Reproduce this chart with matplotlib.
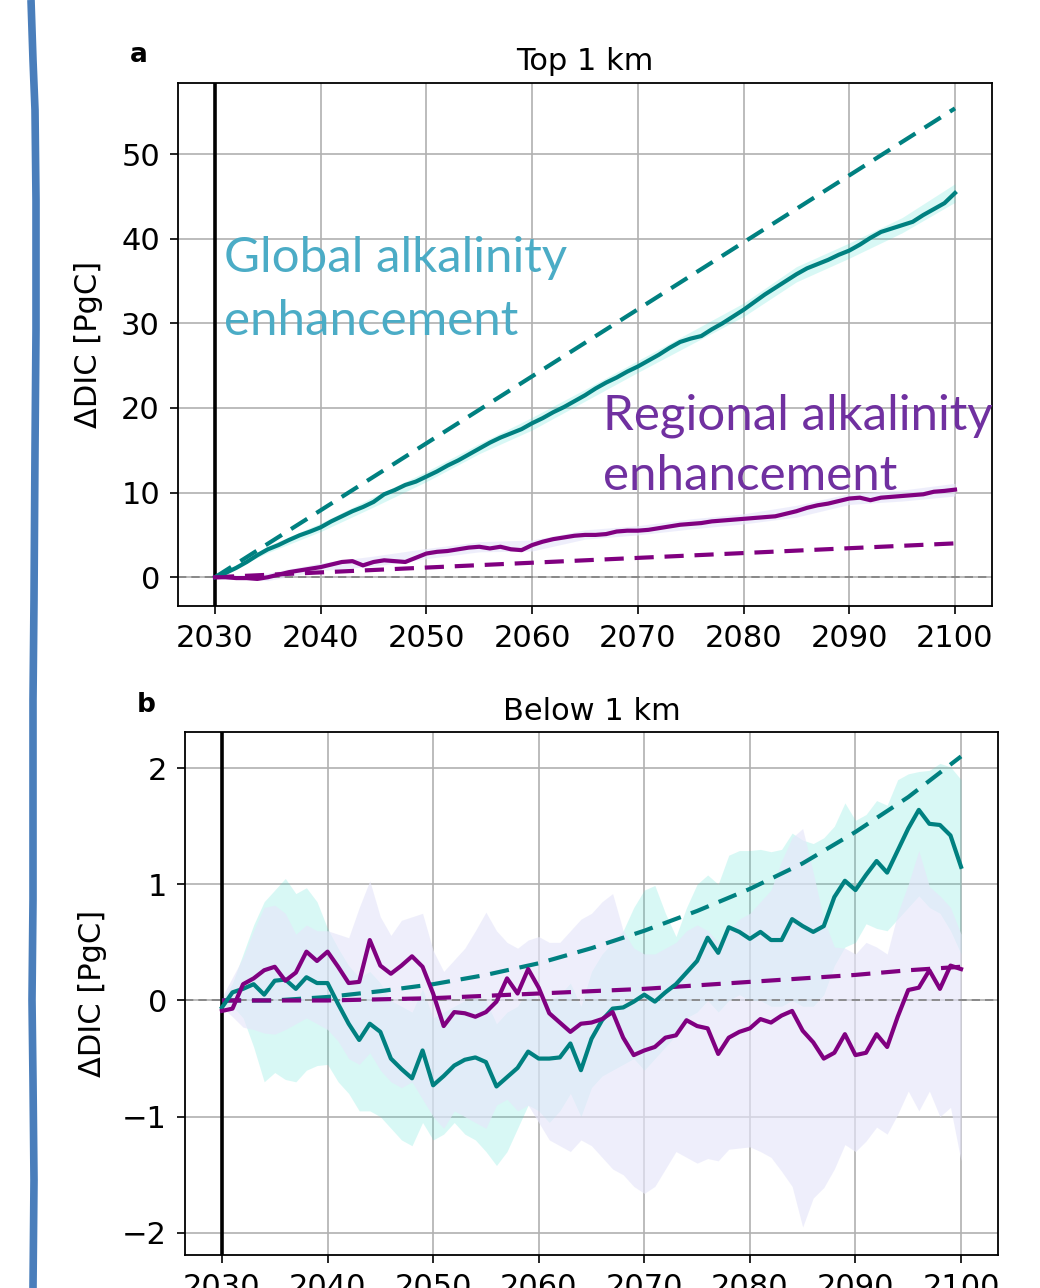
"""
ΔDIC for global vs regional alkalinity enhancement.
Top panel: top 1 km, bottom panel: below 1 km.
Saves out.png
"""
import numpy as np
import matplotlib.pyplot as plt
from matplotlib.lines import Line2D

# ---------------------------- data ---------------------------- #
years = np.arange(2030, 2101)

# top 1 km (annual ensemble means)
top_global = [0.0, 0.5, 1.1, 1.8, 2.6, 3.3, 3.8, 4.4, 4.95, 5.4,
              5.9, 6.6, 7.2, 7.8, 8.3, 8.9, 9.8, 10.3, 10.9, 11.3,
              11.9, 12.5, 13.2, 13.8, 14.5, 15.2, 15.9, 16.5, 17.0, 17.5,
              18.2, 18.8, 19.5, 20.1, 20.8, 21.5, 22.3, 23.0, 23.6, 24.3,
              24.9, 25.6, 26.3, 27.1, 27.8, 28.2, 28.5, 29.3, 30.0, 30.8,
              31.6, 32.5, 33.4, 34.2, 35.0, 35.8, 36.5, 37.0, 37.5, 38.1,
              38.6, 39.3, 40.1, 40.8, 41.2, 41.6, 42.0, 42.8, 43.5, 44.2,
              45.4]
top_regional = [0.0, 0.0, -0.1, -0.1, -0.2, 0.0, 0.3, 0.6, 0.8, 1.0,
                1.2, 1.5, 1.8, 1.9, 1.4, 1.8, 2.0, 1.9, 1.8, 2.3,
                2.8, 3.0, 3.1, 3.3, 3.5, 3.6, 3.4, 3.6, 3.3, 3.2,
                3.8, 4.2, 4.5, 4.7, 4.9, 5.0, 5.0, 5.1, 5.4, 5.5,
                5.5, 5.6, 5.8, 6.0, 6.2, 6.3, 6.4, 6.6, 6.7, 6.8,
                6.9, 7.0, 7.1, 7.2, 7.5, 7.8, 8.2, 8.5, 8.7, 9.0,
                9.3, 9.4, 9.1, 9.4, 9.5, 9.6, 9.7, 9.8, 10.1, 10.2,
                10.35]

# spread bands for the top panel (every 5 years)
band_years = np.arange(2030, 2101, 5)
top_global_lo = [0.0, 2.9, 5.4, 8.3, 11.3, 14.6, 17.4, 20.8, 24.2, 27.5, 30.8, 34.9, 37.7, 40.7, 44.3]
top_global_hi = [0.0, 3.7, 6.4, 9.5, 12.5, 15.8, 18.9, 22.2, 25.6, 29.0, 32.4, 36.7, 39.5, 42.5, 46.5]
top_regional_lo = [-0.2, -0.4, 0.8, 1.3, 2.2, 3.0, 3.1, 4.5, 5.0, 5.7, 6.3, 7.1, 8.6, 9.0, 9.6]
top_regional_hi = [0.1, 0.5, 1.7, 2.5, 3.4, 4.2, 4.4, 5.6, 6.1, 6.9, 7.5, 8.5, 9.9, 10.3, 11.1]

# idealised (expected) curves, dashed
top_global_exp = [0.0, 55.4]
top_regional_exp = [0.0, 4.0]
exp_years_top = [2030, 2100]

# below 1 km
bot_global = [-0.06, 0.07, 0.10, 0.14, 0.05, 0.17, 0.18, 0.10, 0.20, 0.15,
              0.15, -0.03, -0.20, -0.34, -0.20, -0.27, -0.50, -0.59, -0.67, -0.43,
              -0.73, -0.65, -0.56, -0.51, -0.49, -0.53, -0.74, -0.66, -0.58, -0.44,
              -0.50, -0.50, -0.49, -0.37, -0.60, -0.33, -0.17, -0.07, -0.06, -0.01,
              0.05, -0.01, 0.07, 0.14, 0.24, 0.34, 0.54, 0.41, 0.63, 0.59,
              0.53, 0.59, 0.52, 0.52, 0.70, 0.64, 0.59, 0.64, 0.89, 1.03,
              0.95, 1.08, 1.20, 1.10, 1.29, 1.48, 1.64, 1.52, 1.51, 1.42,
              1.15]
bot_regional = [-0.09, -0.07, 0.14, 0.19, 0.26, 0.29, 0.17, 0.24, 0.42, 0.34,
                0.42, 0.29, 0.15, 0.16, 0.52, 0.30, 0.23, 0.30, 0.38, 0.29,
                0.06, -0.22, -0.10, -0.11, -0.14, -0.10, -0.01, 0.19, 0.06, 0.27,
                0.11, -0.11, -0.19, -0.27, -0.20, -0.19, -0.16, -0.10, -0.32, -0.47,
                -0.43, -0.40, -0.32, -0.30, -0.17, -0.22, -0.24, -0.46, -0.32, -0.27,
                -0.24, -0.16, -0.19, -0.13, -0.09, -0.26, -0.36, -0.50, -0.45, -0.29,
                -0.47, -0.45, -0.29, -0.40, -0.14, 0.09, 0.11, 0.26, 0.10, 0.30,
                0.27]
bot_global_hi = [0.0, 0.15, 0.4, 0.65, 0.85, 0.95, 1.05, 0.92, 0.97, 0.85,
                 0.62, 0.45, 0.3, 0.2, 0.25, 0.15, 0.0, -0.05, -0.1, 0.1,
                 -0.15, -0.1, -0.05, 0.0, 0.05, 0.0, -0.2, -0.1, -0.05, 0.1,
                 0.0, 0.0, 0.05, 0.15, -0.05, 0.25, 0.4, 0.5, 0.6, 0.8,
                 0.95, 0.99, 0.75, 0.55, 0.8, 1.0, 1.08, 1.0, 1.25, 1.29,
                 1.29, 1.3, 1.28, 1.3, 1.44, 1.38, 1.35, 1.4, 1.5, 1.7,
                 1.55, 1.6, 1.72, 1.68, 1.9, 1.95, 1.97, 1.98, 2.04, 2.01,
                 1.9]
bot_global_lo = [-0.05, -0.05, -0.15, -0.4, -0.7, -0.62, -0.68, -0.7, -0.6, -0.56,
                 -0.55, -0.7, -0.8, -0.95, -0.95, -1.0, -1.1, -1.2, -1.25, -1.05,
                 -1.2, -1.15, -1.05, -1.15, -1.2, -1.3, -1.42, -1.3, -1.1, -0.9,
                 -0.95, -1.05, -0.95, -0.8, -1.0, -0.75, -0.65, -0.6, -0.55, -0.5,
                 -0.6, -0.5, -0.4, -0.3, -0.15, -0.1, 0.0, -0.1, 0.0, 0.05,
                 0.0, 0.0, -0.05, -0.05, 0.0, -0.05, -0.05, 0.05, 0.3, 0.46,
                 0.5, 0.66, 0.62, 0.6, 0.7, 0.8, 0.9, 0.8, 0.75, 0.6,
                 0.4]
bot_regional_hi = [0.03, 0.2, 0.37, 0.6, 0.8, 0.82, 0.75, 0.57, 0.65, 0.6,
                   0.6, 0.57, 0.54, 0.8, 1.03, 0.72, 0.56, 0.69, 0.72, 0.75,
                   0.43, 0.25, 0.35, 0.45, 0.6, 0.76, 0.6, 0.5, 0.45, 0.52,
                   0.55, 0.5, 0.5, 0.6, 0.7, 0.75, 0.85, 0.92, 0.6, 0.45,
                   0.4, 0.4, 0.45, 0.5, 0.6, 0.65, 0.6, 0.5, 0.6, 0.7,
                   0.75, 0.85, 0.95, 1.2, 1.4, 1.48, 1.1, 0.7, 0.46, 0.45,
                   0.4, 0.5, 0.46, 0.4, 0.75, 1.0, 1.29, 0.98, 0.9, 0.8,
                   0.57]
bot_regional_lo = [-0.06, -0.14, -0.23, -0.25, -0.28, -0.29, -0.25, -0.2, -0.15, -0.2,
                   -0.25, -0.35, -0.5, -0.55, -0.45, -0.6, -0.7, -0.75, -0.7, -0.85,
                   -1.0, -1.1, -0.95, -1.0, -1.05, -1.1, -0.9, -0.85, -0.95, -0.9,
                   -1.05, -1.2, -1.25, -1.3, -1.2, -1.25, -1.35, -1.45, -1.5, -1.6,
                   -1.66, -1.6, -1.45, -1.3, -1.35, -1.4, -1.36, -1.38, -1.28, -1.27,
                   -1.26, -1.3, -1.35, -1.47, -1.6, -1.95, -1.7, -1.61, -1.45, -1.24,
                   -1.3, -1.21, -1.09, -1.15, -0.98, -0.78, -0.95, -0.78, -1.0, -0.92,
                   -1.38]

exp_years_bot = np.arange(2030, 2101, 5)
bot_global_exp = [0.0, 0.0, 0.03, 0.08, 0.14, 0.22, 0.32, 0.45, 0.60, 0.77, 0.96, 1.18, 1.45, 1.75, 2.1]
bot_regional_exp = [0.0, 0.0, 0.0, 0.01, 0.02, 0.04, 0.06, 0.08, 0.10, 0.13, 0.16, 0.19, 0.22, 0.26, 0.29]

# ---------------------------- style ---------------------------- #
TEAL = "#008080"
PURPLE = "#800080"
FS = 22
LW = 3.0

plt.rcParams["font.family"] = "DejaVu Sans"


def style_axes(ax, title, yticks, ylim):
    ax.set_xlim(2026.5, 2103.5)
    ax.set_ylim(*ylim)
    ax.set_xticks(range(2030, 2101, 10))
    ax.set_yticks(yticks)
    ax.grid(True, color="#b0b0b0", lw=1.2)
    ax.set_axisbelow(True)
    ax.tick_params(labelsize=FS, length=6, width=1.2, pad=7)
    for sp in ax.spines.values():
        sp.set_linewidth(1.3)
    ax.set_title(title, fontsize=FS, pad=9)
    ax.set_ylabel("ΔDIC [PgC]", fontsize=FS)
    ax.axvline(2030, color="black", lw=2.6, zorder=3)
    ax.axhline(0, color="grey", lw=1.2, ls=(0, (5, 3)), zorder=2)


def draw(ax, yrs, g, r, band_x, g_lo, g_hi, r_lo, r_hi, ex_x_g, g_exp, ex_x_r, r_exp):
    ax.fill_between(band_x, g_lo, g_hi, color="turquoise", alpha=0.2, lw=0, zorder=1)
    ax.fill_between(band_x, r_lo, r_hi, color="lavender", alpha=0.65, lw=0, zorder=1)
    ax.plot(ex_x_g, g_exp, color=TEAL, lw=LW, dashes=(4.6, 2.6), zorder=4)
    ax.plot(ex_x_r, r_exp, color=PURPLE, lw=LW, dashes=(4.6, 2.6), zorder=4)
    ax.plot(yrs, g, color=TEAL, lw=LW, zorder=5)
    ax.plot(yrs, r, color=PURPLE, lw=LW, zorder=5)


W, H = 1040, 1288
fig = plt.figure(figsize=(W / 100, H / 100), dpi=100)

ax1 = fig.add_axes([178 / W, 1 - 606 / H, (992 - 178) / W, (606 - 83) / H])
ax2 = fig.add_axes([185 / W, 1 - 1255 / H, (998 - 185) / W, (1255 - 732) / H])

draw(ax1, years, top_global, top_regional, band_years,
     top_global_lo, top_global_hi, top_regional_lo, top_regional_hi,
     exp_years_top, top_global_exp, exp_years_top, top_regional_exp)
style_axes(ax1, "Top 1 km", range(0, 51, 10), (-3.4, 58.4))
ax1.yaxis.set_label_coords(-0.092, 0.5)

draw(ax2, years, bot_global, bot_regional, years,
     bot_global_lo, bot_global_hi, bot_regional_lo, bot_regional_hi,
     exp_years_bot, bot_global_exp, exp_years_bot, bot_regional_exp)
style_axes(ax2, "Below 1 km", [-2, -1, 0, 1, 2], (-2.19, 2.31))
ax2.yaxis.set_label_coords(-0.096, 0.5)

# panel letters
fig.text(130 / W, 1 - 62 / H, "a", fontsize=19, fontweight="bold", va="baseline")
fig.text(137 / W, 1 - 712 / H, "b", fontsize=19, fontweight="bold", va="baseline")

# overlay annotations
ann = dict(fontsize=35.5, family=["Lato", "DejaVu Sans"], va="baseline", ha="left")
fig.text(224 / W, 1 - 272 / H, "Global alkalinity", color="#4BACC6", **ann)
fig.text(224 / W, 1 - 335 / H, "enhancement", color="#4BACC6", **ann)
fig.text(603 / W, 1 - 429 / H, "Regional alkalinity", color="#7030A0", **ann)
fig.text(603 / W, 1 - 490 / H, "enhancement", color="#7030A0", **ann)

# blue bracket line on the left edge
bx = [31, 33, 35, 36, 36, 35, 34, 33, 33, 33, 32, 33, 34, 33]
by = [0, 60, 110, 200, 330, 450, 600, 700, 800, 900, 1000, 1080, 1180, 1288]
fig.add_artist(Line2D([x / W for x in bx], [1 - y / H for y in by],
                      color="#4a7ebb", lw=5.5, solid_capstyle="butt"))

fig.savefig("out.png", dpi=100)
